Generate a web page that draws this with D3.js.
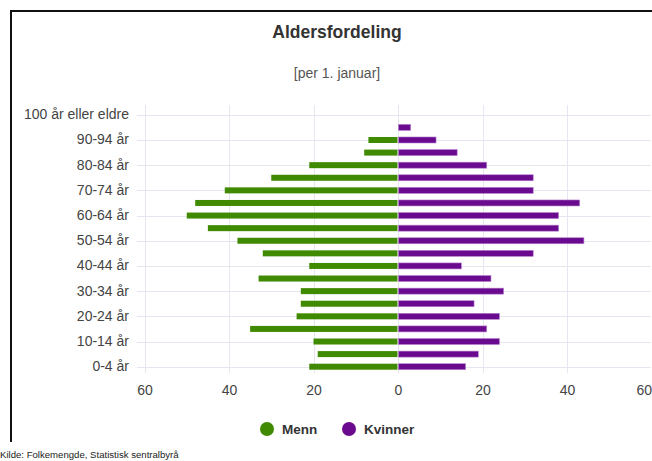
<!DOCTYPE html>
<html>
<head>
<meta charset="utf-8">
<script src="https://cdn.jsdelivr.net/npm/d3@7"></script>
<style>
  html, body { margin: 0; padding: 0; background: #fff; }
  svg { display: block; font-family: "Liberation Sans", Arial, sans-serif; }
</style>
</head>
<body>
<svg id="chart" width="652" height="461"></svg>
<script>
// Age groups, youngest first
const ageGroups = ["0-4 år","5-9 år","10-14 år","15-19 år","20-24 år","25-29 år","30-34 år",
  "35-39 år","40-44 år","45-49 år","50-54 år","55-59 år","60-64 år","65-69 år","70-74 år",
  "75-79 år","80-84 år","85-89 år","90-94 år","95-99 år","100 år eller eldre"];
// Number of persons per group
const menn    = [21,19,20,35,24,23,23,33,21,32,38,45,50,48,41,30,21,8,7,0,0];
const kvinner = [16,19,24,21,24,18,25,22,15,32,44,38,38,43,32,32,21,14,9,3,0];
const xTicks = [-60,-40,-20,0,20,40,60];
const seriesNames = ["Menn","Kvinner"];
const seriesColors = ["#3f8a00","#6a0a8e"];

const svg = d3.select("#chart");

// Frame lines
svg.append("line").attr("x1",10.5).attr("x2",652).attr("y1",11).attr("y2",11)
  .attr("stroke","#111").attr("stroke-width",2);
svg.append("line").attr("x1",11).attr("x2",11).attr("y1",10).attr("y2",442)
  .attr("stroke","#111").attr("stroke-width",2);

// Titles
svg.append("text").attr("x",337).attr("y",38).attr("text-anchor","middle")
  .attr("font-size",17.5).attr("font-weight","bold").attr("fill","#333").text("Aldersfordeling");
svg.append("text").attr("x",337).attr("y",78).attr("text-anchor","middle")
  .attr("font-size",14).attr("fill","#555").text("[per 1. januar]");

const x = d3.scaleLinear().domain([-60,60]).range([144.5,651.5]);
const y = d3.scaleBand().domain(ageGroups).range([373,108.5]).paddingInner(0).paddingOuter(0);
const barH = 6;

const plotTop = 105, plotBottom = 373;

// Vertical grid
svg.append("g").selectAll("line").data(xTicks).join("line")
  .attr("x1",d=>Math.round(x(d))+0.5).attr("x2",d=>Math.round(x(d))+0.5)
  .attr("y1",plotTop).attr("y2",plotBottom)
  .attr("stroke","#e6e6f0").attr("stroke-width",1);

// Horizontal grid at every second group
const labeled = ageGroups.filter((d,i)=>i%2===0);
svg.append("g").selectAll("line").data(labeled).join("line")
  .attr("x1",137).attr("x2",651)
  .attr("y1",d=>Math.round(y(d)+y.bandwidth()/2)+0.5)
  .attr("y2",d=>Math.round(y(d)+y.bandwidth()/2)+0.5)
  .attr("stroke","#e6e6f0").attr("stroke-width",1);

// Y axis labels
const yAxis = d3.axisLeft(y).tickValues(labeled).tickSize(0).tickPadding(0);
const gy = svg.append("g").attr("transform","translate(129,0)").call(yAxis);
gy.select(".domain").remove();
gy.selectAll("text").attr("font-size",14).attr("fill","#444")
  .attr("font-family","\"Liberation Sans\", Arial, sans-serif");

// X axis labels
const xAxis = d3.axisBottom(x).tickValues(xTicks).tickSize(0).tickPadding(0)
  .tickFormat(d=>Math.abs(d));
const gx = svg.append("g").attr("transform","translate(0,385)").call(xAxis);
gx.select(".domain").remove();
gx.selectAll("text").attr("font-size",14).attr("fill","#444")
  .attr("font-family","\"Liberation Sans\", Arial, sans-serif");
// keep the outermost label inside the frame
gx.selectAll(".tick").filter(d=>d===60).select("text")
  .attr("text-anchor","end").attr("dx",0.5 - (x(60) - 651));

// Bars
svg.append("g").selectAll("rect").data(ageGroups).join("rect")
  .attr("x",(d,i)=>x(-menn[i]))
  .attr("width",(d,i)=>x(0)-x(-menn[i])-0.5)
  .attr("y",d=>y(d)+y.bandwidth()/2-barH/2)
  .attr("height",barH)
  .attr("fill",seriesColors[0]);

svg.append("g").selectAll("rect").data(ageGroups).join("rect")
  .attr("x",x(0)+0.5)
  .attr("width",(d,i)=>Math.max(0,x(kvinner[i])-x(0)-0.5))
  .attr("y",d=>y(d)+y.bandwidth()/2-barH/2)
  .attr("height",barH)
  .attr("fill",seriesColors[1])
  .attr("stroke","#b77fd0").attr("stroke-width",0.6);

// Legend
const legend = svg.append("g");
const legX = [267, 349];
seriesNames.forEach((name,i)=>{
  legend.append("circle").attr("cx",legX[i]).attr("cy",429).attr("r",7).attr("fill",seriesColors[i]);
  legend.append("text").attr("x",legX[i]+15).attr("y",434).attr("font-size",13.5)
    .attr("font-weight","bold").attr("fill","#333").text(name);
});

// Source
svg.append("text").attr("x",0).attr("y",458).attr("font-size",9.6).attr("fill","#222")
  .text("Kilde: Folkemengde, Statistisk sentralbyrå");
</script>
</body>
</html>
